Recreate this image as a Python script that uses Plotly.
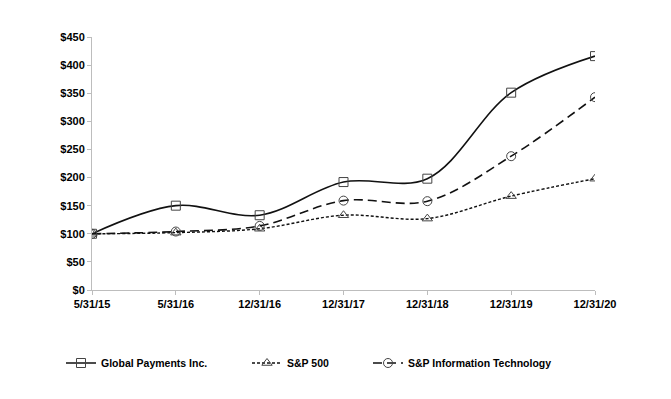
import plotly.graph_objects as go

dates = ["5/31/15", "5/31/16", "12/31/16", "12/31/17", "12/31/18", "12/31/19", "12/31/20"]
gpn = [100, 150, 133, 192, 198, 351, 416]
sp500 = [100, 102, 109, 133, 127, 167, 198]
sp_it = [100, 104, 114, 159, 158, 238, 343]

FAM = "Liberation Sans, Arial, sans-serif"
font = dict(family=FAM, size=11, color="#000000")
mk_line = dict(color="#444444", width=1)

fig = go.Figure()
fig.add_trace(go.Scatter(
    x=dates, y=gpn, name="Global Payments Inc.", mode="lines+markers",
    line=dict(color="#111111", width=1.6, shape="spline", smoothing=1),
    marker=dict(symbol="square-open", size=9, color="#444444", line=mk_line),
    legend="legend", showlegend=True))
fig.add_trace(go.Scatter(
    x=dates, y=sp500, name="S&P 500", mode="lines+markers",
    line=dict(color="#111111", width=1.4, dash="3px,2px", shape="spline", smoothing=1),
    marker=dict(symbol="triangle-up-open", size=9, color="#444444", line=mk_line),
    legend="legend2", showlegend=True))
fig.add_trace(go.Scatter(
    x=dates, y=sp_it, name="S&P Information Technology", mode="lines+markers",
    line=dict(color="#111111", width=1.6, dash="9px,5px", shape="spline", smoothing=1),
    marker=dict(symbol="circle-open", size=9, color="#444444", line=mk_line),
    legend="legend3", showlegend=True))

def leg(xpx):
    return dict(orientation="h", yanchor="middle", xanchor="left",
                xref="container", yref="container",
                x=xpx / 671, y=1 - 363 / 399,
                font=dict(family=FAM, size=10.5, color="#000000", weight="bold"),
                bgcolor="rgba(0,0,0,0)", itemwidth=30)

fig.update_layout(
    width=671, height=399,
    showlegend=True,
    margin=dict(l=92, r=76, t=37, b=109, autoexpand=False),
    paper_bgcolor="white", plot_bgcolor="white",
    font=font,
    legend=leg(61),
    legend2=leg(247),
    legend3=leg(368),
    xaxis=dict(type="category", range=[0, 6], showgrid=False, zeroline=False,
               showline=True, linecolor="#bdbdbd", linewidth=1,
               ticks="outside", ticklen=4, tickcolor="#bdbdbd",
               tickfont=dict(family=FAM, size=11, color="#000000", weight="bold")),
    yaxis=dict(range=[0, 450], dtick=50, tickprefix="$", showgrid=False, zeroline=False,
               showline=True, linecolor="#bdbdbd", linewidth=1,
               ticks="outside", ticklen=4, tickcolor="#bdbdbd",
               tickfont=dict(family=FAM, size=11, color="#000000", weight="bold")),
)

fig.write_html("out.html", config={"displayModeBar": False},
               post_script="document.body.style.margin='0';")
